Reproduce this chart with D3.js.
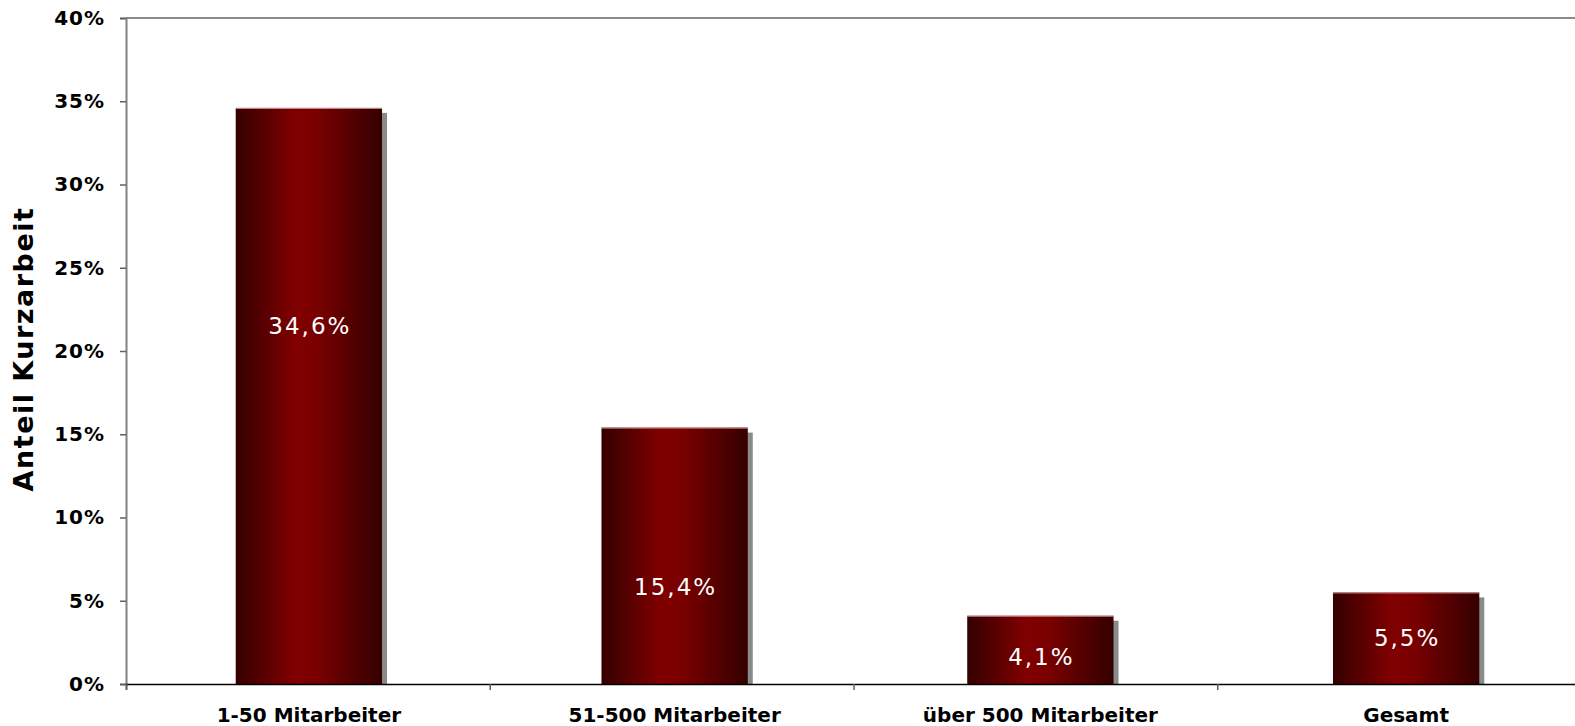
<!DOCTYPE html>
<html><head><meta charset="utf-8">
<script src="https://cdn.jsdelivr.net/npm/d3@7"></script>
<style>body{margin:0;background:#fff;}svg{display:block;}</style>
</head><body>
<svg id="c" width="1575" height="726"></svg>
<script>
const categories = ["1-50 Mitarbeiter", "51-500 Mitarbeiter", "über 500 Mitarbeiter", "Gesamt"];
const values = [34.6, 15.4, 4.1, 5.5];
const valueLabels = ["34,6%", "15,4%", "4,1%", "5,5%"];
// vertical anchor of each value label, in axis units (%)
const labelAnchors = [21.5, 5.8, 1.6, 2.75];
const yTicks = [0, 5, 10, 15, 20, 25, 30, 35, 40];
const yTitle = "Anteil Kurzarbeit";

const svg = d3.select("#c");
const pLeft = 126, pRight = 1581, pTop = 18, pBottom = 684;
const x = d3.scaleBand().domain(categories).range([pLeft, 1589]).paddingInner(0.6).paddingOuter(0.3);
const y = d3.scaleLinear().domain([0, 40]).range([pBottom, pTop]);
const FONT = "Verdana, DejaVu Sans, sans-serif";

const defs = svg.append("defs");
const g = defs.append("linearGradient").attr("id", "bg").attr("x1", "0").attr("x2", "1").attr("y1", "0").attr("y2", "0");
g.append("stop").attr("offset", "0%").attr("stop-color", "#340000");
g.append("stop").attr("offset", "40%").attr("stop-color", "#800000");
g.append("stop").attr("offset", "55%").attr("stop-color", "#7a0000");
g.append("stop").attr("offset", "100%").attr("stop-color", "#340000");

// top border
svg.append("line").attr("x1", pLeft).attr("x2", 1575).attr("y1", pTop).attr("y2", pTop)
  .attr("stroke", "#8c8c8c").attr("stroke-width", 2);

// shadows
svg.append("g").selectAll("rect").data(values).join("rect")
  .attr("x", (d, i) => x(categories[i]) + 5)
  .attr("y", d => y(d) + 5)
  .attr("width", x.bandwidth())
  .attr("height", d => pBottom - y(d) - 5)
  .attr("fill", "#8a8a8a");

// bars
svg.append("g").selectAll("rect").data(values).join("rect")
  .attr("x", (d, i) => x(categories[i]))
  .attr("y", d => y(d))
  .attr("width", x.bandwidth())
  .attr("height", d => pBottom - y(d))
  .attr("fill", "url(#bg)");
svg.append("g").selectAll("line").data(values).join("line")
  .attr("x1", (d, i) => x(categories[i]))
  .attr("x2", (d, i) => x(categories[i]) + x.bandwidth())
  .attr("y1", d => y(d) + 0.5).attr("y2", d => y(d) + 0.5)
  .attr("stroke", "#c89090").attr("stroke-width", 1);

// value labels
svg.append("g").selectAll("text").data(values).join("text")
  .attr("x", (d, i) => x(categories[i]) + x.bandwidth() / 2 + 1)
  .attr("y", (d, i) => y(labelAnchors[i]))
  .attr("dy", "0.35em")
  .attr("text-anchor", "middle")
  .attr("fill", "#fff")
  .attr("font-family", FONT)
  .attr("font-size", 23)
  .attr("letter-spacing", 2)
  .text((d, i) => valueLabels[i]);

// y axis
const ya = svg.append("g").attr("transform", `translate(${pLeft},0)`)
  .call(d3.axisLeft(y).tickValues(yTicks).tickSize(6).tickPadding(15).tickFormat(d => d + "%"));
ya.select(".domain").attr("stroke", "#808080").attr("stroke-width", 2);
ya.selectAll(".tick line").attr("stroke", "#606060").attr("stroke-width", 1.5);
ya.selectAll("text").attr("font-family", FONT)
  .attr("font-weight", "bold").attr("font-size", 20).attr("letter-spacing", 1).attr("fill", "#000");

// x axis
const xTickScale = d3.scaleLinear().domain([0, categories.length]).range([pLeft, pRight]);
const xa = svg.append("g").attr("transform", `translate(0,${pBottom})`)
  .call(d3.axisBottom(xTickScale).tickValues(d3.range(0, categories.length + 1)).tickSize(6).tickFormat(""));
xa.select(".domain").attr("stroke", "#000").attr("stroke-width", 1.5);
xa.selectAll(".tick line").attr("stroke", "#606060").attr("stroke-width", 1.5);

svg.append("g").selectAll("text").data(categories).join("text")
  .attr("x", d => x(d) + x.bandwidth() / 2)
  .attr("y", 722)
  .attr("text-anchor", "middle")
  .attr("font-family", FONT)
  .attr("font-weight", "bold").attr("font-size", 20).attr("fill", "#000")
  .text(d => d);

// y title
svg.append("text")
  .attr("transform", `translate(33,${349}) rotate(-90)`)
  .attr("text-anchor", "middle")
  .attr("font-family", FONT)
  .attr("font-weight", "bold").attr("font-size", 27).attr("letter-spacing", 1.5).attr("fill", "#000")
  .text(yTitle);
</script>
</body></html>
